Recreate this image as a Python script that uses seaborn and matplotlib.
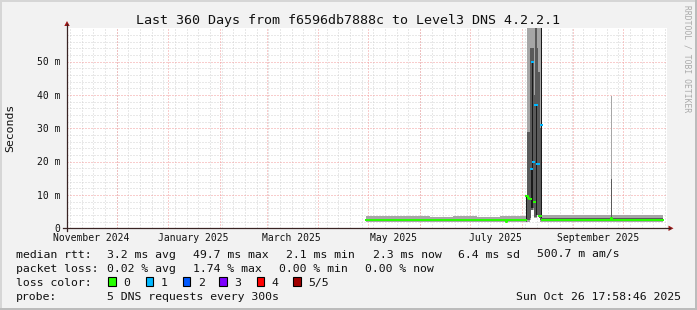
import matplotlib
matplotlib.use("Agg")
import matplotlib.pyplot as plt
from matplotlib.patches import Rectangle, Polygon
from matplotlib.lines import Line2D
from matplotlib.transforms import blended_transform_factory
import numpy as np
import pandas as pd
import seaborn as sns

# ---------------- data ----------------
seg_start = [
    "2025-04-29 10:00", "2025-05-10 00:00", "2025-05-24 00:00", "2025-06-07 00:00",
    "2025-06-21 00:00", "2025-07-05 00:00", "2025-07-19 00:00", "2025-07-22 15:06",
    "2025-07-23 05:30",
    "2025-08-03 15:06", "2025-08-04 05:30", "2025-08-04 19:54", "2025-08-05 10:18",
    "2025-08-06 00:42", "2025-08-06 15:06", "2025-08-07 05:30", "2025-08-07 19:54",
    "2025-08-08 10:18", "2025-08-09 00:42", "2025-08-09 15:06", "2025-08-10 05:30",
    "2025-08-10 19:54", "2025-08-11 10:18", "2025-08-12 00:42", "2025-08-12 15:06",
    "2025-08-13 05:30", "2025-08-27 00:00", "2025-09-10 00:00", "2025-09-23 15:06",
    "2025-09-24 05:30", "2025-10-08 00:00",
]
data_end = "2025-10-25 00:00"

# smoke layers in ms
smoke_lo = [1.9, 1.9, 1.9, 1.9, 1.9, 1.9, 1.9, 1.9, 1.9,
            2.0, 2.0, 2.0, 2.0, 2.5, 5.5, 5.5, 5.5, 3.0, 3.0, 3.0, 4.0, 4.0, 3.0, 2.0, 2.0,
            1.9, 1.9, 1.9, 1.9, 1.9, 1.9]
smoke_hi = [3.8, 3.6, 3.7, 3.5, 3.6, 3.5, 3.7, 3.7, 3.7,
            10, 65, 65, 65, 65, 65, 65, 65, 65, 65, 65, 65, 65, 65, 65, 65,
            3.9, 4.1, 4.0, 39.6, 4.0, 3.9]
mid_lo = [2.1, 2.1, 2.1, 2.1, 2.1, 2.1, 2.1, 2.1, 2.1,
          2.0, 2.5, 2.5, 2.5, 3.0, 5.5, 5.5, 6.0, 3.5, 3.5, 3.5, 4.0, 4.0, 3.0, 2.5, 2.5,
          2.1, 2.1, 2.1, 2.1, 2.1, 2.1]
mid_hi = [2.9, 2.8, 2.9, 2.8, 2.9, 2.8, 2.9, 2.9, 2.9,
          10, 29, 29, 29, 54, 54, 54, 54, 40, 65, 65, 54, 47, 47, 30, 65,
          3.0, 3.1, 3.0, 14.8, 3.0, 3.0]
core_lo = [2.4, 2.4, 2.4, 2.4, 2.4, 2.4, 2.4, 1.9, 2.4,
           2.2, 9.8, 9.2, 8.8, 8.8, 6.0, 6.0, 20, 8.0, 37, 4.0, 19.3, 19.3, 3.8, 3.8, 3.0,
           2.4, 2.4, 2.4, 3.0, 2.4, 2.4]
core_hi = [2.4, 2.4, 2.4, 2.4, 2.4, 2.4, 2.4, 1.9, 2.4,
           9.8, 9.8, 9.2, 8.8, 8.8, 17.8, 50, 20, 8.0, 37, 37, 19.3, 19.3, 3.8, 3.8, 65,
           2.4, 2.4, 2.4, 3.0, 2.4, 2.4]
median_ms = [2.4, 2.4, 2.4, 2.4, 2.4, 2.4, 2.4, 1.9, 2.4,
             9.8, 9.8, 9.2, 8.8, 8.8, 17.8, 50, 20, 8.0, 37, 37, 19.3, 19.3, 3.8, 3.8, 31,
             2.4, 2.4, 2.4, 3.0, 2.4, 2.4]
loss_n = [0, 0, 0, 0, 0, 0, 0, 0, 0,
          0, 0, 0, 0, 0, 1, 1, 1, 0, 1, 1, 1, 1, 0, 0, 1,
          0, 0, 0, 0, 0, 0]

loss_labels = ["0", "1", "2", "3", "4", "5/5"]
loss_colors = ["#26ff00", "#00b8ff", "#0059ff", "#7e00ff", "#ff0000", "#a10000"]

y_ticks = [0, 10, 20, 30, 40, 50]
y_tick_labels = ["0", "10 m", "20 m", "30 m", "40 m", "50 m"]
month_labels = ["November 2024", "January 2025", "March 2025", "May 2025", "July 2025", "September 2025"]
month_label_dates = ["2024-11-16", "2025-01-16", "2025-03-16", "2025-05-16", "2025-07-16", "2025-09-16"]

title = "Last 360 Days from f6596db7888c to Level3 DNS 4.2.2.1"
row_rtt = [("median rtt:", 16), ("3.2 ms avg", 107.3), ("49.7 ms max", 192.7), ("2.1 ms min", 286.0),
           ("2.3 ms now", 372.7), ("6.4 ms sd", 458.3), ("500.7 m am/s", 537.3)]
row_loss = [("packet loss:", 16), ("0.02 % avg", 107.3), ("1.74 % max", 192.7), ("0.00 % min", 279.3),
            ("0.00 % now", 365.0)]
probe_text = "5 DNS requests every 300s"
stamp = "Sun Oct 26 17:58:46 2025"

# ---------------- figure ----------------
W, H = 697, 310
MONO = "DejaVu Sans Mono"
plt.rcParams["font.family"] = [MONO]

def fx(x):
    return x / W

def fy(y):
    return 1 - y / H

fig = plt.figure(figsize=(W / 100, H / 100), dpi=100, facecolor="#f2f2f2")

# border
fig.add_artist(Rectangle((0, fy(2)), 1, 2 / H, transform=fig.transFigure, color="#d6d6d6", lw=0))
fig.add_artist(Rectangle((0, 0), 2 / W, 1, transform=fig.transFigure, color="#d6d6d6", lw=0))
fig.add_artist(Rectangle((0, 0), 1, 2 / H, transform=fig.transFigure, color="#bcbcbc", lw=0))
fig.add_artist(Rectangle((fx(W - 2), 0), 2 / W, 1, transform=fig.transFigure, color="#bcbcbc", lw=0))

L, R, T, B = 67, 667, 28.3, 228.3
ax = fig.add_axes([fx(L), fy(B), (R - L) / W, (B - T) / H])
ax.set_facecolor("white")
for s in ax.spines.values():
    s.set_visible(False)

t0 = pd.Timestamp("2024-11-01 05:30")
t1 = t0 + pd.Timedelta(days=360)
ax.set_xlim(t0, t1)
ax.set_ylim(0, 60)
ax.set_xticks([])
ax.set_yticks([])

t = pd.to_datetime(seg_start + [data_end])

def stepfill(lo, hi, color, z):
    ax.fill_between(t, lo + [lo[-1]], hi + [hi[-1]], step="post", color=color, lw=0,
                    zorder=z, antialiased=False)

stepfill(smoke_lo, smoke_hi, "#a6a6a6", 2)
stepfill(mid_lo, mid_hi, "#5a5a5a", 2.1)
stepfill(core_lo, core_hi, "#1a1a1a", 2.2)

# median line coloured by loss
rows = []
run = 0
for i in range(len(seg_start)):
    if i > 0 and (loss_n[i] != loss_n[i - 1] or abs(median_ms[i] - median_ms[i - 1]) > 1.0):
        run += 1
    rows.append((t[i], median_ms[i], loss_n[i], run))
    rows.append((t[i + 1], median_ms[i], loss_n[i], run))
med_df = pd.DataFrame(rows, columns=["time", "ms", "loss", "run"])
pal = {k: loss_colors[k] for k in sorted(set(loss_n))}
sns.lineplot(data=med_df, x="time", y="ms", hue="loss", units="run", estimator=None,
             sort=False, palette=pal, linewidth=1.44, legend=False, ax=ax, zorder=5)
ax.set_xlabel("")
ax.set_ylabel("")

# grid (dotted, behind the smoke)
dot = (0, (1, 2))
for v in range(2, 60, 2):
    if v % 10:
        ax.axhline(v, color="#d2d2d2", lw=0.72, ls=dot, zorder=1, snap=True)
for v in range(10, 60, 10):
    ax.axhline(v, color="#f29a9a", lw=0.72, ls=dot, zorder=1.1, snap=True)
for d in pd.date_range(t0.normalize(), t1, freq="W-SUN"):
    if d > t0:
        ax.axvline(d, color="#d2d2d2", lw=0.72, ls=dot, zorder=1, snap=True)
for d in pd.date_range(t0.normalize(), t1, freq="MS"):
    if d > t0:
        ax.axvline(d, color="#f29a9a", lw=0.72, ls=dot, zorder=1.1, snap=True)

# axes with arrows
AX_C = "#3a2424"
ARR_C = "#a01616"
fig.add_artist(Line2D([fx(L), fx(L)], [fy(230.5), fy(24)], transform=fig.transFigure, color=AX_C, lw=0.9))
fig.add_artist(Line2D([fx(63), fx(670)], [fy(B), fy(B)], transform=fig.transFigure, color=AX_C, lw=0.9))
fig.add_artist(Polygon([(fx(64.3), fy(26)), (fx(69.7), fy(26)), (fx(67), fy(21))], closed=True,
                       transform=fig.transFigure, color=ARR_C, lw=0))
fig.add_artist(Polygon([(fx(668.5), fy(B - 2.7)), (fx(668.5), fy(B + 2.7)), (fx(673.5), fy(B))], closed=True,
                       transform=fig.transFigure, color=ARR_C, lw=0))

# tick labels
for v, lab in zip(y_ticks, y_tick_labels):
    yp = B - v * (B - T) / 60
    fig.text(fx(60), fy(yp + 3.6), lab, ha="right", va="baseline", fontsize=7.05, family=MONO, color="#111")
trans = blended_transform_factory(ax.transData, fig.transFigure)
for d, lab in zip(month_label_dates, month_labels):
    ax.text(pd.Timestamp(d), fy(241), lab, transform=trans, ha="center", va="baseline",
            fontsize=7.05, family=MONO, color="#111", clip_on=False)

# titles
fig.text(fx(347.5), fy(24.3), title, ha="center", va="baseline", fontsize=9.6, family=MONO, color="#111")
fig.text(fx(10.5), fy(127.5), "Seconds", rotation=90, ha="center", va="center", fontsize=8.25,
         family=MONO, color="#111")
fig.text(fx(687), fy(5), "RRDTOOL / TOBI OETIKER", rotation=270, ha="center", va="top",
         fontsize=5.8, family=MONO, color="#aaaaaa")

# legend rows
LEG = 8.25
for s, x in row_rtt:
    fig.text(fx(x), fy(257.5), s, ha="left", va="baseline", fontsize=LEG, family=MONO, color="#111")
for s, x in row_loss:
    fig.text(fx(x), fy(271.7), s, ha="left", va="baseline", fontsize=LEG, family=MONO, color="#111")
fig.text(fx(16), fy(285.9), "loss color:", ha="left", va="baseline", fontsize=LEG, family=MONO, color="#111")
sq_x = [108.3, 145.7, 182.7, 219.3, 256.7, 293.3]
for x, lab, c in zip(sq_x, loss_labels, loss_colors):
    fig.add_artist(Rectangle((fx(x), fy(286)), 7.5 / W, 8.8 / H, transform=fig.transFigure,
                             facecolor=c, edgecolor="black", lw=0.8))
    fig.text(fx(x + 15), fy(285.9), lab, ha="left", va="baseline", fontsize=LEG, family=MONO, color="#111")
fig.text(fx(16), fy(300.1), "probe:", ha="left", va="baseline", fontsize=LEG, family=MONO, color="#111")
fig.text(fx(107.3), fy(300.1), probe_text, ha="left", va="baseline", fontsize=LEG, family=MONO, color="#111")
fig.text(fx(680.5), fy(300.1), stamp, ha="right", va="baseline", fontsize=LEG, family=MONO, color="#111")

fig.savefig("out.png", dpi=100, facecolor=fig.get_facecolor())
